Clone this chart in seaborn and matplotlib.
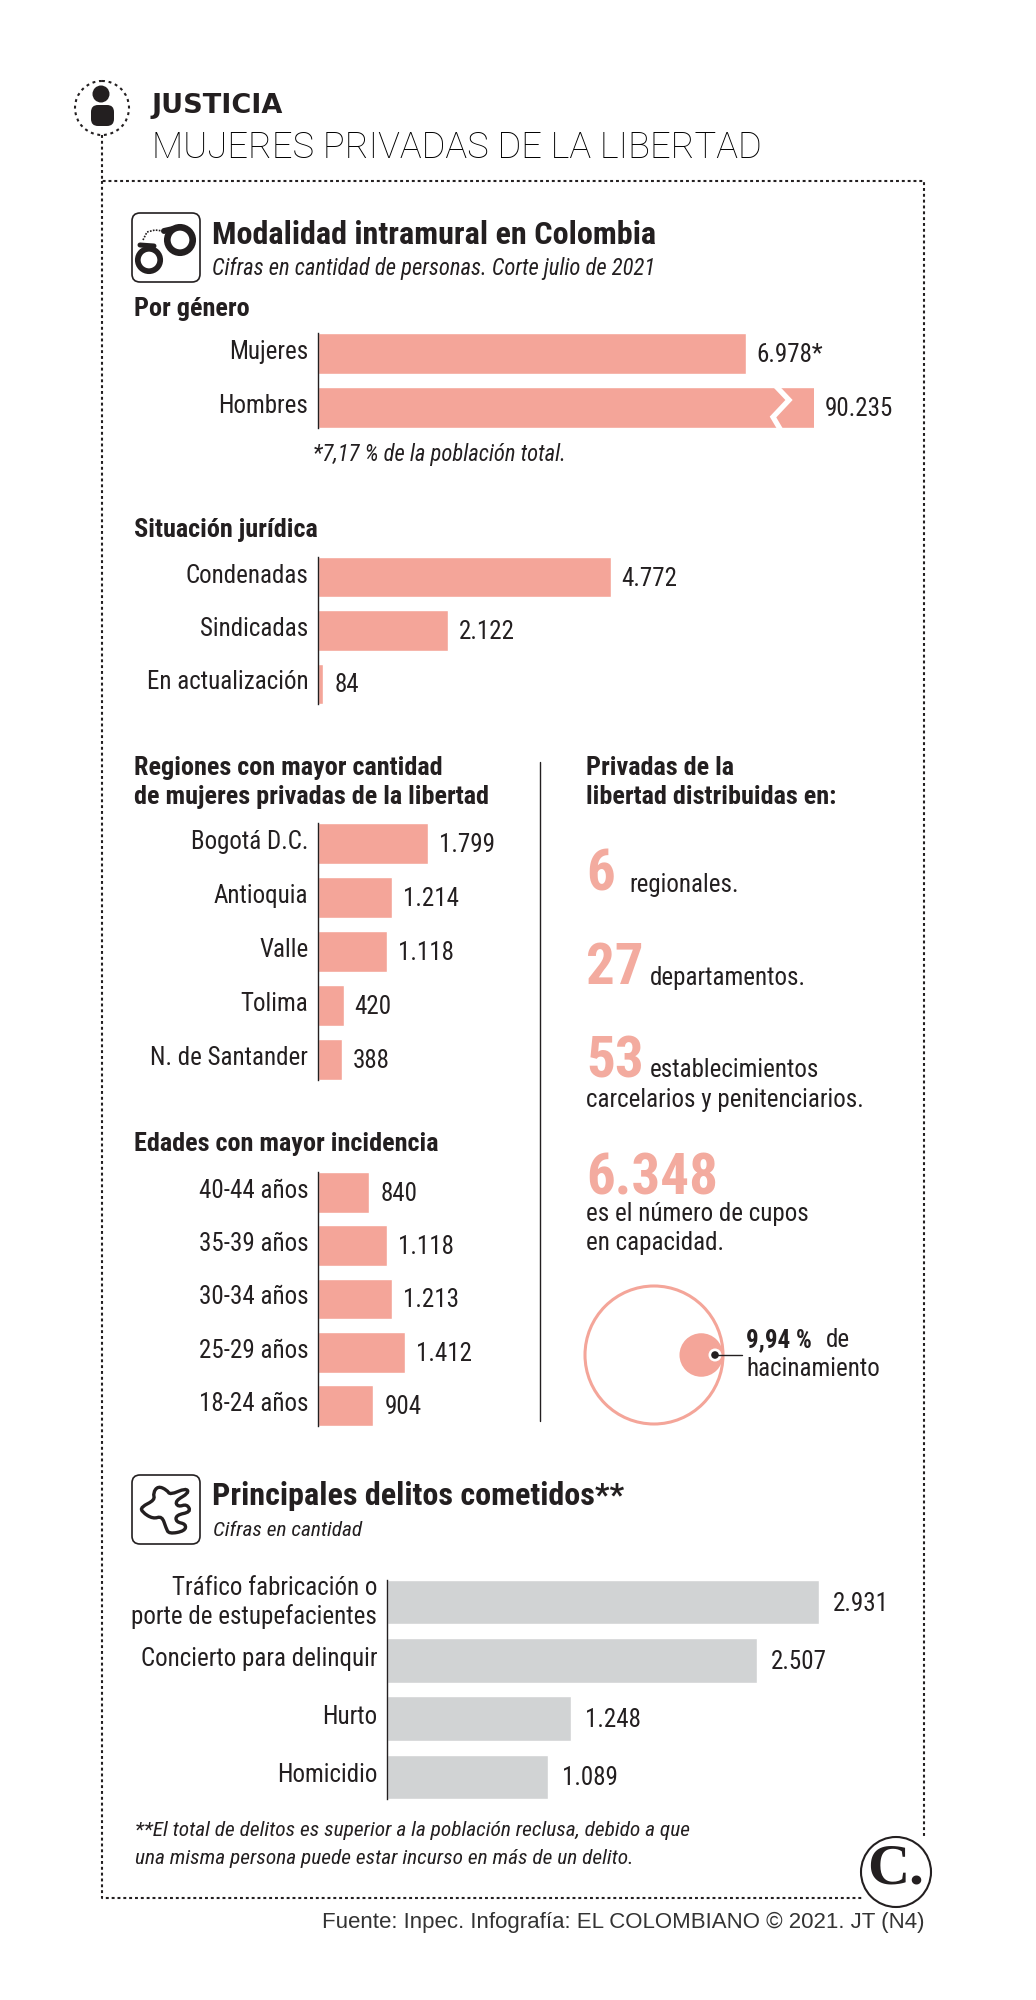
import numpy as np
import matplotlib
matplotlib.use("Agg")
import matplotlib.pyplot as plt
from matplotlib.patches import Circle, FancyBboxPatch, PathPatch
from matplotlib.path import Path
import seaborn as sns

# data
genero_cats = ["Mujeres", "Hombres"]
genero_vals = [6978, 90235]
situacion_cats = ["Condenadas", "Sindicadas", "En actualización"]
situacion_vals = [4772, 2122, 84]
region_cats = ["Bogotá D.C.", "Antioquia", "Valle", "Tolima", "N. de Santander"]
region_vals = [1799, 1214, 1118, 420, 388]
edad_cats = ["40-44 años", "35-39 años", "30-34 años", "25-29 años", "18-24 años"]
edad_vals = [840, 1118, 1213, 1412, 904]
delito_cats = ["Tráfico fabricación o\nporte de estupefacientes", "Concierto para delinquir", "Hurto", "Homicidio"]
delito_vals = [2931, 2507, 1248, 1089]
hacinamiento = 9.94

W, H = 1036, 2000
PINK = "#F4A599"
PINK_TXT = "#F3AB9F"
GRAY = "#D1D3D4"
INK = "#231F20"
NARROW = ["Roboto Condensed", "Roboto", "Liberation Sans", "DejaVu Sans"]
PLAIN = ["Liberation Sans", "DejaVu Sans"]
BODY = 18
HEAD = 18.9
NOTE = 16.3
FOOT = 15.4
TITLE = 23.2
BIG = 41

sns.set_theme(style="white")
plt.rcParams["font.family"] = NARROW

fig = plt.figure(figsize=(W / 100, H / 100), dpi=100, facecolor="white")

# pixel-space layer for frame, headings and icons
bg = fig.add_axes([0, 0, 1, 1], zorder=10)
bg.set_xlim(0, W)
bg.set_ylim(H, 0)
bg.axis("off")


def txt(x, y, s, size=BODY, weight="normal", style="normal", color=INK, family=NARROW, ha="left"):
    return bg.text(x, y, s, fontsize=size, fontweight=weight, fontstyle=style, color=color,
                   family=family, ha=ha, va="center")


def bar_panel(cats, vals, top, bottom, left, right, color, px_per_unit, gap=11, suffix=None):
    ax = fig.add_axes([left / W, 1 - bottom / H, (right - left) / W, (bottom - top) / H])
    ax.patch.set_alpha(0)
    sns.barplot(x=vals, y=cats, color=color, saturation=1, width=0.76, ax=ax)
    xmax = (right - left) / px_per_unit
    ax.set_xlim(0, xmax)
    ax.set_ylim(len(cats) - 1 + 0.38, -0.38)
    ax.set(xlabel=None, ylabel=None, xticks=[])
    # category labels sit about 4 px above the bar centre
    lift = 4 / ((bottom - top) / (len(cats) - 1 + 0.76))
    ax.set_yticks(np.arange(len(cats)) - lift, labels=cats)
    sns.despine(ax=ax, bottom=True)
    ax.spines["left"].set_color(INK)
    ax.spines["left"].set_linewidth(1)
    ax.tick_params(axis="y", length=0, pad=7, labelsize=BODY, labelcolor=INK)
    for i, v in enumerate(vals):
        lab = f"{v:,}".replace(",", ".")
        if suffix and i == 0:
            lab += suffix
        ax.annotate(lab, xy=(min(v, xmax), i), xytext=(gap * 0.72, -1), textcoords="offset points",
                    va="center", ha="left", fontsize=BODY, color=INK)
    return ax


# value panels
PINK_SCALE = 0.0613
bar_panel(genero_cats, genero_vals, 333, 428, 318, 814, PINK, PINK_SCALE, suffix="*")
bar_panel(situacion_cats, situacion_vals, 557, 704, 318, 814, PINK, PINK_SCALE)
bar_panel(region_cats, region_vals, 823, 1080, 318, 814, PINK, PINK_SCALE)
bar_panel(edad_cats, edad_vals, 1172, 1426, 318, 814, PINK, PINK_SCALE)
bar_panel(delito_cats, delito_vals, 1580, 1799, 387, 920, GRAY, 0.1474, gap=14)

# break in the Hombres bar
bg.plot([771, 789, 773, 783], [381, 400, 417, 434], color="white", lw=3.8, solid_joinstyle="miter")

# dotted frame
dots = dict(color=INK, lw=1.5, ls=(0, (1.4, 1.4)))
bg.plot([102, 102, 924, 924], [135, 181, 181, 1838], **dots)
bg.plot([102, 102, 862], [181, 1898, 1898], **dots)

# person icon
bg.add_patch(Circle((102, 108), 27, fill=False, ec=INK, lw=1.5, ls=(0, (1.4, 1.8))))
bg.add_patch(Circle((101, 94), 8.5, fc=INK, ec="none"))
bg.add_patch(FancyBboxPatch((91, 105), 23, 21, boxstyle="round,pad=0,rounding_size=7", fc=INK, ec="none"))

# headings
txt(152, 106, "JUSTICIA", size=19.5, weight="bold", family=["DejaVu Sans"])
txt(152, 148, "MUJERES PRIVADAS DE LA LIBERTAD", size=26.2, weight="light", color="black",
    family=["Roboto", "Liberation Sans"])

# handcuffs icon
bg.add_patch(FancyBboxPatch((132, 213), 68, 69, boxstyle="round,pad=0,rounding_size=8", fill=False, ec=INK, lw=1.2))
bg.add_patch(Circle((149, 260), 11.2, fill=False, ec=INK, lw=4.1))
bg.add_patch(Circle((180, 240), 12.7, fill=False, ec=INK, lw=4.8))
bg.plot([143, 147, 155, 163], [240, 232, 230, 231], color=INK, lw=1.2, ls=(0, (1, 0.8)))
bg.plot([140, 154], [245, 246], color=INK, lw=3.6)
bg.plot([164, 173], [231, 229], color=INK, lw=4.3)

txt(212, 235, "Modalidad intramural en Colombia", size=TITLE, weight="bold")
txt(212, 268, "Cifras en cantidad de personas. Corte julio de 2021", size=NOTE, style="italic")
txt(134, 309, "Por género", size=HEAD, weight="bold")
txt(313, 454, "*7,17 % de la población total.", size=NOTE, style="italic")
txt(134, 530, "Situación jurídica", size=HEAD, weight="bold")
txt(134, 768, "Regiones con mayor cantidad", size=HEAD, weight="bold")
txt(134, 797, "de mujeres privadas de la libertad", size=HEAD, weight="bold")
txt(134, 1144, "Edades con mayor incidencia", size=HEAD, weight="bold")

# right column
bg.plot([540, 540], [762, 1421], color=INK, lw=1)
txt(586, 768, "Privadas de la", size=HEAD, weight="bold")
txt(586, 797, "libertad distribuidas en:", size=HEAD, weight="bold")
txt(586, 875, "6", size=BIG, weight="bold", color=PINK_TXT)
txt(629, 885, "regionales.")
txt(586, 968, "27", size=BIG, weight="bold", color=PINK_TXT)
txt(650, 978, "departamentos.")
txt(586, 1062, "53", size=BIG, weight="bold", color=PINK_TXT)
txt(650, 1070, "establecimientos")
txt(586, 1100, "carcelarios y penitenciarios.")
txt(586, 1179, "6.348", size=BIG, weight="bold", color=PINK_TXT)
txt(586, 1214, "es el número de cupos")
txt(586, 1243, "en capacidad.")

# capacity circle, inner area taken from the overcrowding share
R = 69
cx, cy = 654, 1355
inner_r = R * np.sqrt(hacinamiento / 100)
bg.add_patch(Circle((cx + R - inner_r, cy), inner_r, fc=PINK, ec="none"))
bg.add_patch(Circle((cx, cy), R, fill=False, ec=PINK, lw=2.2))
bg.add_patch(Circle((715, cy), 6.5, fc="white", ec="none"))
bg.add_patch(Circle((715, cy), 3.8, fc=INK, ec="none"))
bg.plot([715, 742], [cy, cy], color=INK, lw=1)
txt(746, 1340, "9,94 %", weight="bold")
txt(826, 1340, "de")
txt(746, 1369, "hacinamiento")

# body outline icon, rounded through the edge midpoints
bg.add_patch(FancyBboxPatch((132, 1475), 68, 69, boxstyle="round,pad=0,rounding_size=8", fill=False, ec=INK, lw=1.2))
outline = np.array([(153, 1493), (158, 1486), (167, 1490), (170, 1495), (186, 1488), (189, 1493),
                    (175, 1501), (178, 1507), (187, 1504), (191, 1512), (176, 1515), (176, 1522),
                    (186, 1524), (185, 1531), (169, 1534), (166, 1528), (162, 1516), (153, 1519),
                    (142, 1512), (141, 1507), (155, 1500)])
mids = (outline + np.roll(outline, -1, axis=0)) / 2
verts = [mids[-1]]
codes = [Path.MOVETO]
for p, m in zip(outline, mids):
    verts += [p, m]
    codes += [Path.CURVE3, Path.CURVE3]
bg.add_patch(PathPatch(Path(verts, codes), fill=False, ec=INK, lw=2.4))

txt(212, 1496, "Principales delitos cometidos**", size=TITLE, weight="bold")
txt(213, 1531, "Cifras en cantidad", size=FOOT, style="italic")
txt(135, 1831, "**El total de delitos es superior a la población reclusa, debido a que", size=FOOT, style="italic")
txt(135, 1859, "una misma persona puede estar incurso en más de un delito.", size=FOOT, style="italic")

# logo
bg.add_patch(Circle((896, 1872), 35, fc="white", ec=INK, lw=1.5, zorder=5))
bg.text(896, 1870, "C.", fontsize=42, fontweight="bold", family=["Liberation Serif", "DejaVu Serif"],
        ha="center", va="center", color=INK, zorder=6)

txt(924, 1922, "Fuente: Inpec. Infografía: EL COLOMBIANO © 2021. JT (N4)", size=16, family=PLAIN,
    ha="right", color="#333333")

fig.savefig("out.png", dpi=100)
